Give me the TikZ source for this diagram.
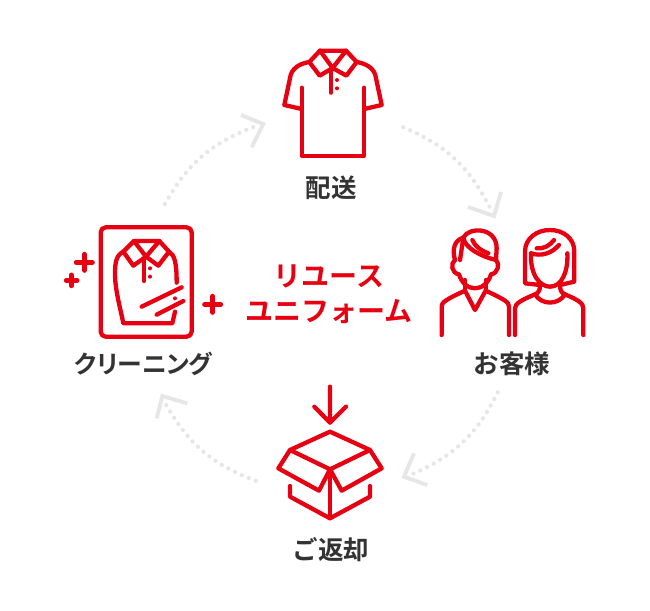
\documentclass[tikz,border=0pt]{standalone}
\usepackage{fontspec}
\setmainfont{Noto Sans CJK JP}[BoldFont={* Bold}]
\newfontfamily\palttext{Noto Sans CJK JP}[BoldFont={* Bold},RawFeature={+palt}]
\definecolor{iconred}{HTML}{E60012}
\definecolor{looppale}{HTML}{E6E6E6}
\definecolor{labelgray}{HTML}{333333}
\tikzset{
  icon/.style={draw=iconred,line width=4.3pt,line join=round,line cap=round},
  plusmark/.style={icon,line width=5pt},
  loopdots/.style={draw=looppale,line width=4.2pt,line cap=round,dash pattern=on 0pt off 7.5pt},
  loophead/.style={draw=looppale,line width=3.8pt,line join=miter},
  steplabel/.style={text=labelgray,font=\fontsize{25.5}{28}\selectfont\bfseries,inner sep=0pt},
  titlelabel/.style={text=iconred,font=\fontsize{28}{35}\selectfont\bfseries,inner sep=0pt,align=center}
}
\begin{document}
\begin{tikzpicture}[x=1pt,y=-1pt]
  \useasboundingbox (0,0) rectangle (650,610);
  \fill[white] (0,0) rectangle (650,610);

  % labels
  \node[steplabel] (haiso) at (331,188) {配送};
  \node[steplabel] (kyaku) at (512,364) {お客様};
  \node[steplabel] (henkyaku) at (331,550) {ご返却};
  \node[steplabel,font=\fontsize{24.8}{28}\selectfont\palttext\bfseries] (cleaning) at (143.5,364) {クリーニング};
  \node[titlelabel] (title) at (329,294) {リユース\\ユニフォーム};

  % loop
  \coordinate (a1) at (403.3,127.3);
  \coordinate (a2) at (490,207.7);
  \coordinate (b1) at (497.7,392.3);
  \coordinate (b2) at (412.7,474);
  \coordinate (c1) at (255.7,480.7);
  \coordinate (c2) at (165.7,404);
  \coordinate (d1) at (165,204);
  \coordinate (d2) at (254.3,126.7);
  \draw[loopdots] (a1) to[bend left=20] (a2);
  \draw[loopdots] (b1) to[bend left=20] (b2);
  \draw[loopdots] (c1) to[bend left=20] (c2);
  \draw[loopdots] (d1) to[bend left=20] (d2);
  \draw[loophead] (468,207) -- (494,216) -- (501,192);
  \draw[loophead] (427.3,485) -- (404,476.7) -- (414,453.3);
  \draw[loophead] (187.3,403.3) -- (162.3,396) -- (156.7,418.3);
  \draw[loophead] (241,115) -- (263.3,124) -- (251.7,147.3);

  % shirt
  \begin{scope}[shift={(270,40)},scale=1/3]
    \draw[icon] (95,143) -- (95,347) -- (283,347) -- (283,143);
    \draw[icon] (95,207) -- (43,195) -- (62,105) .. controls (70,80) and (95,70) .. (118,66)
      -- (150,32) -- (228,32) -- (260,66) .. controls (283,70) and (308,80) .. (316,105)
      -- (335,195) -- (283,207);
    \draw[icon] (118,66) -- (149,107) -- (188,84) -- (229,107) -- (260,66);
    \draw[icon] (150,32) -- (188,84) -- (228,32);
    \draw[icon] (183,88) -- (183,158);
    \fill[iconred] (201,120) circle (6) (201,145) circle (6);
  \end{scope}

  % customers
  \begin{scope}[shift={(435,225)},scale=1/3]
    \draw[icon] (20,330) -- (20,245) .. controls (20,232) and (30,225) .. (90,197)
      -- (120,255) -- (152,197) .. controls (212,225) and (222,232) .. (222,245) -- (222,330);
    \draw[icon] (90,165) -- (90,197) (152,165) -- (152,197);
    \draw[icon] (60,105) .. controls (45,115) and (50,145) .. (72,148)
      .. controls (80,175) and (100,190) .. (120,190) .. controls (140,190) and (160,175) .. (168,148)
      .. controls (190,145) and (195,115) .. (183,105);
    \draw[icon] (60,105) .. controls (50,70) and (60,45) .. (85,38)
      .. controls (100,5) and (185,5) .. (185,70) -- (183,105);
    \draw[icon] (85,38) .. controls (90,70) and (140,95) .. (183,105);
    \draw[icon] (85,38) -- (75,105);
    \draw[icon] (112,45) .. controls (120,65) and (140,78) .. (160,85);
    \draw[icon] (315,180) -- (270,175) -- (270,80) .. controls (270,40) and (305,15) .. (345,15)
      .. controls (385,15) and (418,40) .. (418,80) -- (418,170) -- (375,180);
    \draw[icon] (288,85) .. controls (285,150) and (315,185) .. (345,185)
      .. controls (380,185) and (400,140) .. (397,85);
    \draw[icon] (288,85) .. controls (320,95) and (350,85) .. (372,60);
    \draw[icon] (305,70) .. controls (325,72) and (345,62) .. (357,45);
    \draw[icon] (240,330) -- (240,250) .. controls (240,235) and (260,225) .. (300,208)
      .. controls (312,203) and (315,195) .. (315,180);
    \draw[icon] (445,330) -- (445,250) .. controls (445,235) and (430,225) .. (390,208)
      .. controls (378,203) and (375,195) .. (375,180);
    \draw[icon] (300,208) .. controls (320,241) and (370,241) .. (390,208);
  \end{scope}

  % box
  \begin{scope}[shift={(270,380)},scale=1/3]
    \draw[icon] (180,20) -- (180,128) (133,80) -- (180,128) -- (228,80);
    \draw[icon] (180,155) -- (300,210) -- (180,268) -- (60,210) -- cycle;
    \draw[icon] (60,210) -- (25,265) -- (147,332) -- (180,268);
    \draw[icon] (300,210) -- (335,265) -- (215,332) -- (180,268);
    \draw[icon] (180,268) -- (180,415);
    \draw[icon] (60,318) -- (60,350) -- (180,415) -- (300,350) -- (300,318);
  \end{scope}

  % cleaning
  \begin{scope}[shift={(55,220)},scale=1/3]
    \draw[icon,rounded corners=5pt] (137,22) rectangle (410,350);
    \draw[plusmark] (64,127) -- (112,127) (88,103) -- (88,151);
    \draw[plusmark] (34,181) -- (66,181) (49,165) -- (49,197);
    \draw[plusmark] (449,253) -- (497,253) (473,229) -- (473,277);
    \draw[icon] (205,95) .. controls (185,105) and (180,125) .. (180,160)
      .. controls (180,210) and (195,260) .. (205,310) -- (352,310) -- (360,275);
    \draw[icon] (205,95) -- (237,63) -- (313,63) -- (342,95) .. controls (358,105) and (365,125) .. (365,188);
    \draw[icon] (205,95) -- (235,137) -- (273,110) -- (310,137) -- (342,95);
    \draw[icon] (237,63) -- (273,110) -- (313,63);
    \draw[icon] (267,118) -- (267,183);
    \fill[iconred] (285,145) circle (6) (285,170) circle (6) (360,235) circle (6);
    \draw[icon] (260,260) -- (380,202);
    \draw[icon] (305,284) -- (385,243);
  \end{scope}
\end{tikzpicture}
\end{document}
